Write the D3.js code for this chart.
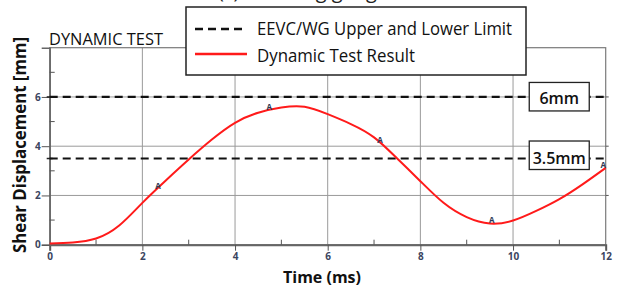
<!DOCTYPE html>
<html>
<head>
<meta charset="utf-8">
<script src="https://cdn.jsdelivr.net/npm/d3@7"></script>
<style>
  html, body { margin: 0; padding: 0; background: #fff; }
  svg { display: block; }
  text { font-family: "Open Sans", sans-serif; }
</style>
</head>
<body>
<svg id="chart" width="617" height="288"></svg>
<script>
// ---- data ----
const timeMs = [0, 0.5, 1, 1.5, 2, 2.5, 3, 3.5, 4, 4.5, 5, 5.5, 6, 6.5, 7, 7.5, 8, 8.5, 9, 9.5, 10, 10.5, 11, 11.5, 12];
const displacement = [0.05, 0.09, 0.25, 0.78, 1.7, 2.6, 3.46, 4.27, 4.95, 5.36, 5.57, 5.6, 5.3, 4.9, 4.36, 3.5, 2.58, 1.7, 1.12, 0.86, 0.98, 1.37, 1.85, 2.45, 3.12];
const markerT = [2.34, 4.74, 7.13, 9.54, 11.95];
const markerV = [2.4, 5.6, 4.27, 1.0, 3.25];
const limitValues = [6, 3.5];
const limitLabels = ["6mm", "3.5mm"];
const xTicks = [0, 2, 4, 6, 8, 10, 12];
const yTicks = [0, 2, 4, 6];
const xMinor = [1, 3, 5, 7, 9, 11];
const yMinor = [1, 3, 5, 7];
const legendLabels = ["EEVC/WG Upper and Lower Limit", "Dynamic Test Result"];
const chartTitle = "DYNAMIC TEST";
const caption = "(c) Shearing gauge";
const xTitle = "Time (ms)";
const yTitle = "Shear Displacement [mm]";

// ---- layout ----
const L = 49.7, R = 605.7, T = 47.7, B = 244.7;
const svg = d3.select("#chart");
const x = d3.scaleLinear().domain([0, 12]).range([L, R]);
const y = d3.scaleLinear().domain([0, 8]).range([B, T]);

const tickColor = "#3b4560";
const gridColor = "#9a9a9a";

// caption (cut off at top, as in the reference)
svg.append("text").attr("x", 218).attr("y", -2)
  .attr("font-family", "Liberation Serif, serif").attr("font-size", 20)
  .attr("fill", "#222").text(caption);

// grid
const g = svg.append("g");
g.selectAll(".vg").data(xTicks.filter(d => d > 0 && d < 12)).join("line")
  .attr("x1", d => x(d)).attr("x2", d => x(d)).attr("y1", T).attr("y2", B)
  .attr("stroke", gridColor).attr("stroke-width", 1);
g.selectAll(".hg").data(yTicks.filter(d => d > 0)).join("line")
  .attr("x1", L).attr("x2", R).attr("y1", d => y(d)).attr("y2", d => y(d))
  .attr("stroke", gridColor).attr("stroke-width", 1);

// frame
g.append("rect").attr("x", L).attr("y", T).attr("width", R - L).attr("height", B - T)
  .attr("fill", "none").attr("stroke", "#7a7a7a").attr("stroke-width", 1.2);

// axes
const xAxis = d3.axisBottom(x).tickValues(xTicks).tickSize(6).tickPadding(2).tickFormat(d3.format("d"));
const ax = svg.append("g").attr("transform", `translate(0,${B})`).call(xAxis);
ax.select(".domain").attr("stroke", "#666").attr("stroke-width", 2);
ax.selectAll(".tick line").attr("stroke", "#555");
ax.selectAll(".tick text").attr("fill", tickColor).attr("font-size", 10).attr("font-weight", "bold")
  .attr("font-family", "Open Sans, sans-serif");

const yAxis = d3.axisLeft(y).tickValues(yTicks).tickSize(8).tickPadding(1).tickFormat(d3.format("d"));
const ay = svg.append("g").attr("transform", `translate(${L},0)`).call(yAxis);
ay.select(".domain").attr("stroke", "#666").attr("stroke-width", 1.5);
ay.selectAll(".tick line").attr("stroke", "#555");
ay.selectAll(".tick text").attr("fill", tickColor).attr("font-size", 10).attr("font-weight", "bold")
  .attr("font-family", "Open Sans, sans-serif");

// minor ticks
svg.append("g").selectAll("line").data(xMinor).join("line")
  .attr("x1", d => x(d)).attr("x2", d => x(d)).attr("y1", B).attr("y2", B - 5)
  .attr("stroke", "#555");
svg.append("g").selectAll("line").data(yMinor).join("line")
  .attr("x1", L).attr("x2", L + 5).attr("y1", d => y(d)).attr("y2", d => y(d))
  .attr("stroke", "#555");
// right-side ticks
svg.append("g").selectAll("line").data(yTicks.filter(d => d > 0)).join("line")
  .attr("x1", R).attr("x2", R + 3).attr("y1", d => y(d)).attr("y2", d => y(d))
  .attr("stroke", "#555");
// tick at limit on y axis
svg.append("g").selectAll("line").data(limitValues).join("line")
  .attr("x1", L - 3).attr("x2", L + 3).attr("y1", d => y(d)).attr("y2", d => y(d))
  .attr("stroke", "#222").attr("stroke-width", 1.5);

// limit lines
svg.append("g").selectAll("line").data(limitValues).join("line")
  .attr("x1", L).attr("x2", R + 3).attr("y1", d => y(d)).attr("y2", d => y(d))
  .attr("stroke", "#111").attr("stroke-width", 2.2).attr("stroke-dasharray", "8,5");

// limit labels boxes
const lab = svg.append("g").selectAll("g").data(limitValues).join("g")
  .attr("transform", d => `translate(${x(10.35)},${y(d)})`);
lab.append("rect").attr("x", 0).attr("y", (d, i) => i === 0 ? -14.5 : -17.5)
  .attr("width", 60).attr("height", 28.5)
  .attr("fill", "#fff").attr("stroke", "#222").attr("stroke-width", 1.3);
lab.append("text").attr("x", 30).attr("y", (d, i) => i === 0 ? 7.5 : 5.5)
  .attr("text-anchor", "middle").attr("font-size", 16).attr("font-weight", 600)
  .attr("fill", "#111").text((d, i) => limitLabels[i]);

// curve
const line = d3.line().x((d, i) => x(timeMs[i])).y(d => y(d)).curve(d3.curveNatural);
svg.append("path").datum(displacement).attr("d", line)
  .attr("fill", "none").attr("stroke", "#ff1a1a").attr("stroke-width", 2);

// markers "A"
svg.append("g").selectAll("text").data(markerT).join("text")
  .attr("x", d => x(d)).attr("y", (d, i) => y(markerV[i]) + 3)
  .attr("text-anchor", "middle").attr("font-size", 8).attr("font-weight", "bold")
  .attr("fill", "#2e3a55").text("A");

// title
svg.append("text").attr("x", 49).attr("y", 45).attr("font-size", 17)
  .attr("font-family", "Open Sans, sans-serif").attr("font-weight", 400)
  .attr("textLength", 114).attr("lengthAdjust", "spacingAndGlyphs")
  .attr("fill", "#111").text(chartTitle);

// legend
const lg = svg.append("g");
lg.append("rect").attr("x", 186).attr("y", 7).attr("width", 340).attr("height", 68)
  .attr("fill", "#fff").attr("stroke", "#222").attr("stroke-width", 1.5);
lg.append("line").attr("x1", 195).attr("x2", 247).attr("y1", 29).attr("y2", 29)
  .attr("stroke", "#111").attr("stroke-width", 2.5).attr("stroke-dasharray", "8,5");
lg.append("line").attr("x1", 195).attr("x2", 247).attr("y1", 54).attr("y2", 54)
  .attr("stroke", "#ff1a1a").attr("stroke-width", 2.5);
lg.selectAll("text").data(legendLabels).join("text")
  .attr("x", 257).attr("y", (d, i) => i === 0 ? 35 : 61.5)
  .attr("font-size", 18).attr("fill", "#111")
  .attr("textLength", (d, i) => i === 0 ? 255 : 158).attr("lengthAdjust", "spacingAndGlyphs")
  .text(d => d);

// axis titles
svg.append("text").attr("x", 322).attr("y", 283).attr("text-anchor", "middle")
  .attr("font-size", 16).attr("font-weight", "bold").attr("fill", "#111").text(xTitle);
svg.append("text").attr("transform", "translate(26,145) rotate(-90)").attr("text-anchor", "middle")
  .attr("font-size", 17).attr("font-weight", "bold").attr("fill", "#111")
  .attr("textLength", 216).attr("lengthAdjust", "spacingAndGlyphs").text(yTitle);
</script>
</body>
</html>
